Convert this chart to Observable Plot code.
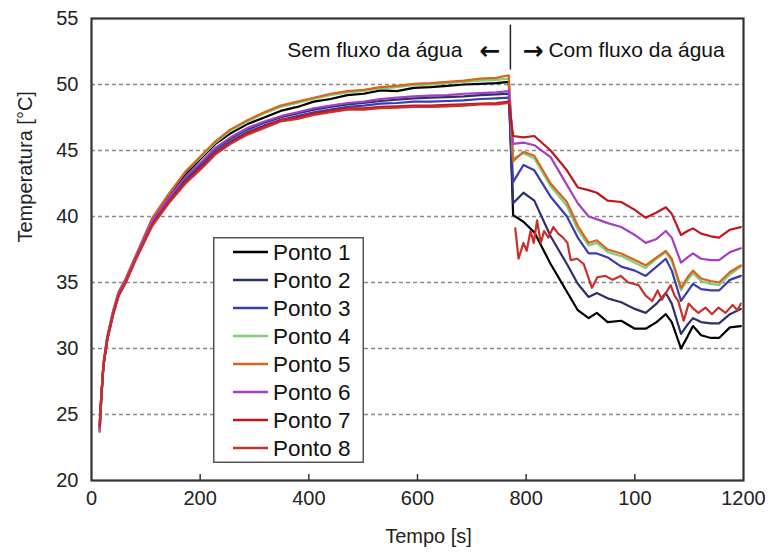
<!DOCTYPE html>
<html><head><meta charset="utf-8">
<script src="https://cdn.jsdelivr.net/npm/d3@7"></script>
<script src="https://cdn.jsdelivr.net/npm/@observablehq/plot@0.6"></script>
<style>
body{margin:0;background:#fff;}
#chart{position:relative;width:776px;height:554px;font-family:"Liberation Sans",Arial,sans-serif;}
</style></head><body><div id="chart"></div>
<script>
// ---- data ----
const series = ["Ponto 1","Ponto 2","Ponto 3","Ponto 4","Ponto 5","Ponto 6","Ponto 7","Ponto 8"];
const colors = ["#000000","#2e3168","#3a3ab2","#86cc7e","#d6651e","#a53fc6","#c0161c","#c9302c"];

// heating phase (sem fluxo da água)
const tHeat = [15,18,22,29,40,50,63,81,112,142,173,204,228,256,287,318,348,379,409,440,471,501,532,562,593,624,655,685,716,745,768];
const heatP1 = [23.9,26.3,28.8,30.8,32.8,34.2,35.2,36.9,39.8,41.6,43.2,44.5,45.5,46.3,47.0,47.5,48.0,48.3,48.7,48.9,49.2,49.3,49.55,49.5,49.75,49.8,49.9,50.0,50.05,50.1,50.2];
const heatP2 = [23.8,26.2,28.7,30.7,32.7,34.1,35.1,36.8,39.6,41.3,42.9,44.1,45.1,45.9,46.6,47.1,47.5,47.8,48.1,48.3,48.5,48.6,48.75,48.85,48.95,49.0,49.05,49.1,49.2,49.25,49.3];
const heatP3 = [23.7,26.1,28.7,30.7,32.7,34.1,35.1,36.8,39.5,41.2,42.7,43.9,44.9,45.7,46.4,46.9,47.3,47.6,47.9,48.1,48.3,48.4,48.55,48.6,48.7,48.7,48.75,48.8,48.9,48.95,49.0];
const heatP4 = [23.8,26.3,28.9,30.9,32.9,34.3,35.3,37.0,39.9,41.7,43.4,44.6,45.6,46.5,47.2,47.8,48.3,48.6,48.9,49.2,49.4,49.5,49.7,49.8,49.95,50.0,50.1,50.2,50.3,50.35,50.45];
const heatP5 = [23.8,26.3,28.9,30.9,32.9,34.3,35.3,37.0,39.9,41.7,43.4,44.7,45.7,46.6,47.3,47.9,48.4,48.7,49.0,49.3,49.5,49.6,49.8,49.9,50.05,50.1,50.2,50.3,50.45,50.5,50.7];
const heatP6 = [24.0,26.4,28.8,30.8,32.8,34.2,35.2,36.9,39.7,41.4,43.0,44.2,45.2,46.0,46.7,47.2,47.6,47.9,48.2,48.4,48.6,48.7,48.9,49.0,49.1,49.15,49.2,49.3,49.35,49.4,49.5];
const heatP7 = [24.2,26.4,28.7,30.7,32.6,34.0,35.0,36.7,39.4,41.1,42.6,43.8,44.8,45.6,46.3,46.8,47.3,47.5,47.8,48.0,48.2,48.2,48.3,48.35,48.4,48.4,48.45,48.5,48.55,48.6,48.7];
const heatP8 = [24.4,26.5,28.7,30.6,32.6,34.0,35.0,36.7,39.3,41.0,42.5,43.7,44.7,45.5,46.2,46.7,47.2,47.4,47.7,47.9,48.1,48.1,48.2,48.25,48.3,48.3,48.35,48.4,48.5,48.5,48.6];

// cooling phase (com fluxo da água)
const tCool = [776,795,815,845,875,895,915,930,950,975,1000,1020,1040,1057,1068,1085,1097,1107,1122,1140,1155,1175,1195];
const coolP1 = [40.1,39.6,38.8,36.4,34.3,32.9,32.3,32.7,32.0,32.1,31.5,31.5,32.0,32.6,32.0,30.0,30.9,31.7,31.0,30.8,30.8,31.6,31.7];
const coolP2 = [41.0,41.8,41.2,38.5,36.4,34.9,33.9,34.2,33.8,33.5,33.0,32.7,33.4,34.2,33.4,31.1,31.8,32.3,32.0,31.9,31.9,32.6,33.0];
const coolP3 = [42.6,43.9,43.5,41.5,40.0,38.4,37.2,37.2,36.9,36.2,35.9,35.5,36.2,36.8,35.9,33.6,34.3,34.9,34.5,34.4,34.4,35.2,35.5];
const coolP4 = [44.4,44.8,44.4,42.3,40.8,39.0,37.8,38.0,37.3,37.0,36.5,36.1,36.8,37.3,36.6,34.4,35.2,35.7,35.1,34.9,34.8,35.6,36.2];
const coolP5 = [44.2,44.9,44.6,42.5,41.1,39.3,38.0,38.2,37.5,37.2,36.7,36.3,36.9,37.4,36.8,34.6,35.4,35.9,35.3,35.1,35.0,35.8,36.3];
const coolP6 = [45.5,45.6,45.4,44.5,42.4,41.0,40.0,39.8,39.5,39.2,38.6,38.0,38.3,38.9,38.4,36.5,36.9,37.2,36.8,36.7,36.7,37.3,37.6];
const coolP7 = [46.1,46.0,46.1,45.0,43.5,42.2,42.0,41.8,41.2,41.1,40.5,39.9,40.3,40.7,40.2,38.6,38.9,39.1,38.7,38.5,38.4,39.0,39.2];
const tCoolP8 = [780,786,795,801,808,814,820,827,833,841,850,859,868,876,882,894,906,921,931,946,959,974,988,1007,1020,1032,1042,1050,1057,1066,1073,1080,1090,1099,1108,1117,1130,1142,1154,1167,1180,1189,1195];
const coolP8 = [39.1,36.8,38.0,37.4,38.9,38.0,39.7,38.0,38.9,38.4,39.2,38.7,38.4,38.0,36.7,36.8,36.4,34.6,35.4,35.5,35.2,35.5,35.0,34.8,34.0,33.6,34.4,33.7,34.2,34.8,34.0,33.6,32.1,33.4,33.0,32.7,33.1,32.6,33.1,32.7,33.3,32.9,33.4];

// axes & annotation
const xTickValues = [0,200,400,600,800,1000,1200];
const xTickLabels = ["0","200","400","600","800","100","1200"];
const yTickValues = [20,25,30,35,40,45,50,55];
const yGridValues = [25,30,35,40,45,50];
const xTitle = "Tempo [s]";
const yTitle = "Temperatura [°C]";
const splitTime = 771;
const splitRule = {y1: 51.1, y2: 54.5};
const noteY = 52.6;
const leftNote = "Sem fluxo da água";
const rightNote = "Com fluxo da água";
const leftArrow = "\u2190";
const rightArrow = "\u2192";

// ---- build table ----
const heat = [heatP1,heatP2,heatP3,heatP4,heatP5,heatP6,heatP7,heatP8];
const cool = [coolP1,coolP2,coolP3,coolP4,coolP5,coolP6,coolP7,coolP8];
const coolTimes = [tCool,tCool,tCool,tCool,tCool,tCool,tCool,tCoolP8];
const rows = [];
series.forEach((s,i)=>{
  const key = s === "Ponto 8" ? s + "-a" : s;
  const key2 = s === "Ponto 8" ? s + "-b" : s;
  tHeat.forEach((t,j)=>rows.push({series:s, key, t, T:heat[i][j]}));
  coolTimes[i].forEach((t,j)=>rows.push({series:s, key:key2, t, T:cool[i][j]}));
});

const W=776, H=554, mL=91, mR=33, mT=18, mB=74;
const font = "'Liberation Sans', Arial, sans-serif";
const plot = Plot.plot({
  width: W, height: H, marginLeft: mL, marginRight: mR, marginTop: mT, marginBottom: mB,
  style: {fontFamily: font, fontSize: "20px", color: "#222", background: "#fff"},
  x: {domain: [0,1200]},
  y: {domain: [20,55]},
  color: {domain: series, range: colors},
  marks: [
    Plot.gridY(yGridValues, {stroke:"#8a8a8a", strokeOpacity:1, strokeDasharray:"4,3", strokeWidth:1.3}),
    Plot.line(rows, {x:"t", y:"T", z:"key", stroke:"series", strokeWidth:2.2}),
    Plot.tickX(xTickValues.slice(1,-1), {x: d=>d, stroke:"#333", strokeWidth:1.5, insetTop: (H-mT-mB)-6}),
    Plot.frame({stroke:"#333", strokeWidth:2.2}),
    Plot.axisY({ticks: yTickValues, tickSize:0, tickPadding:13, label:null}),
    Plot.axisX({ticks: xTickValues, tickSize:0, tickPadding:10, label:null, tickFormat: d => xTickLabels[xTickValues.indexOf(d)]}),
    Plot.ruleX([splitTime], {y1: splitRule.y1, y2: splitRule.y2, stroke:"#222", strokeWidth:1.5}),
    Plot.text([leftNote], {x: splitTime, y: noteY, text: d=>d, textAnchor:"end", dx:-48, fontSize:21, fill:"#111"}),
    Plot.text([rightNote], {x: splitTime, y: noteY, text: d=>d, textAnchor:"start", dx:38, fontSize:21, fill:"#111"}),
    Plot.text([leftArrow], {x: splitTime, y: noteY, text: d=>d, textAnchor:"end", dx:-10, dy:1, fontSize:25, fontWeight:"bold", fontFamily:"'DejaVu Sans', sans-serif", fill:"#111"}),
    Plot.text([rightArrow], {x: splitTime, y: noteY, text: d=>d, textAnchor:"start", dx:12, dy:1, fontSize:25, fontWeight:"bold", fontFamily:"'DejaVu Sans', sans-serif", fill:"#111"}),
    Plot.text([xTitle], {text: d=>d, frameAnchor:"bottom", dy:62, dx:11, fontSize:20, fill:"#222"}),
    Plot.text([yTitle], {text: d=>d, frameAnchor:"left", rotate:-90, dx:-66, dy:-7, fontSize:20, fill:"#222"})
  ]
});
const chart = document.getElementById("chart");
chart.appendChild(plot);

// legend overlay
const leg = d3.select(chart).append("svg")
  .attr("width",151).attr("height",226)
  .style("position","absolute").style("left","213px").style("top","237px");
leg.append("rect").attr("x",0.75).attr("y",0.75).attr("width",149.5).attr("height",224.5)
  .attr("fill","#fff").attr("stroke","#555").attr("stroke-width",1.5);
series.forEach((s,i)=>{
  const cy = 15 + 28*i;
  leg.append("line").attr("x1",20).attr("x2",55).attr("y1",cy).attr("y2",cy)
    .attr("stroke",colors[i]).attr("stroke-width",2.5);
  leg.append("text").attr("x",60).attr("y",cy).attr("dy","0.36em").text(s)
    .attr("font-size",22.5).attr("fill","#111").attr("font-family",font);
});
</script></body></html>
